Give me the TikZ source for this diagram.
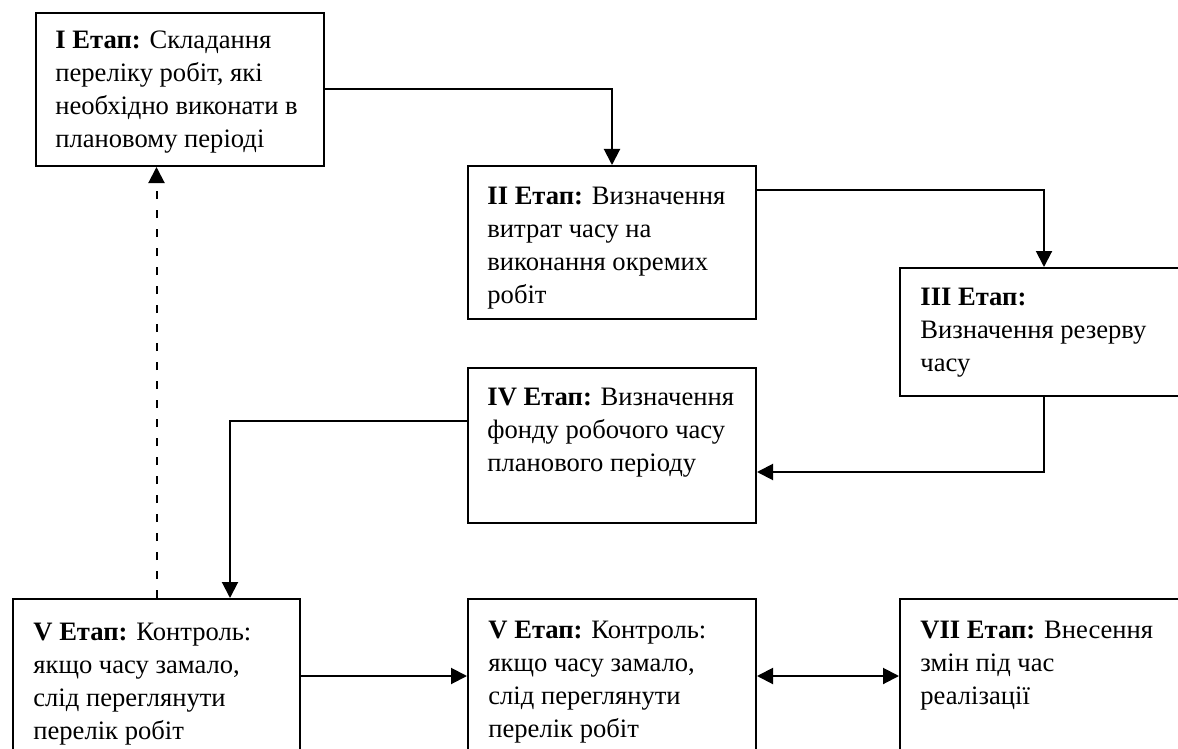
\documentclass[tikz,border=0pt]{standalone}
\usepackage{fontspec}
\setmainfont{Liberation Serif}
\usetikzlibrary{arrows.meta,calc}
\begin{document}
\begin{tikzpicture}[x=0.5pt,y=-0.5pt,
  stage/.style={draw, line width=1pt, rectangle, anchor=north west, inner sep=0pt, minimum width=144pt},
  label/.style={anchor=north west, inner sep=0pt, align=left,
    font=\fontsize{13.3}{16.5}\selectfont},
  link/.style={line width=1pt, -{Triangle[length=8pt,width=8pt]}},
]
\useasboundingbox (0,0) rectangle (1178,749);
\clip (0,0) rectangle (1178,749);

% stage frames
\node[stage, minimum height=76.5pt] (s1) at (35,12) {};
\node[stage, minimum height=76.5pt] (s2) at (467,165) {};
\node[stage, minimum height=64pt] (s3) at (899,267) {};
\node[stage, minimum height=77.5pt] (s4) at (467,367) {};
\node[stage, minimum height=85pt, minimum width=143.5pt] (s5) at (12,598) {};
\node[stage, minimum height=85pt] (s6) at (467,598) {};
\node[stage, minimum height=85pt] (s7) at (899,598) {};

% stage texts
\node[label] (t1) at ($(s1.north west)+(20,13)$) {\strut\textbf{I Етап:} Складання\\переліку робіт, які\\необхідно виконати в\\плановому періоді};
\node[label] (t2) at ($(s2.north west)+(20,16)$) {\strut\textbf{II Етап:} Визначення\\витрат часу на\\виконання окремих\\робіт};
\node[label] (t3) at ($(s3.north west)+(21,15)$) {\strut\textbf{III Етап:}\\Визначення резерву\\часу};
\node[label] (t4) at ($(s4.north west)+(20,15)$) {\strut\textbf{IV Етап:} Визначення\\фонду робочого часу\\планового періоду};
\node[label] (t5) at ($(s5.north west)+(21,19)$) {\strut\textbf{V Етап:} Контроль:\\якщо часу замало,\\слід переглянути\\перелік робіт};
\node[label] (t6) at ($(s6.north west)+(21,17)$) {\strut\textbf{V Етап:} Контроль:\\якщо часу замало,\\слід переглянути\\перелік робіт};
\node[label] (t7) at ($(s7.north west)+(21,17)$) {\strut\textbf{VII Етап:} Внесення\\змін під час\\реалізації};

% connectors
\coordinate (c2out) at ($(s2.north east)+(0,25)$);
\coordinate (c4in) at ($(s4.north east)+(0,105)$);
\coordinate (c4out) at ($(s4.north west)+(0,54)$);
\coordinate (c5in) at ($(s5.north west)+(218,0)$);
\coordinate (c5out) at ($(s5.north east)+(0,78)$);
\coordinate (c6in) at ($(s6.north west)+(0,78)$);
\coordinate (c6out) at ($(s6.north east)+(0,78)$);
\coordinate (c7in) at ($(s7.north west)+(0,78)$);

\draw[link] (s1.east) -| (s2.north);
\draw[link] (c2out) -| (s3.north);
\draw[link] (s3.south) |- (c4in);
\draw[link] (c4out) -| (c5in);
\draw[link, dash pattern=on 4pt off 5.5pt] (s5.north) -- (s5.north |- s1.south);
\draw[link] (c5out) -- (c6in);
\draw[line width=1pt, {Triangle[length=8pt,width=8pt]}-{Triangle[length=8pt,width=8pt]}] (c6out) -- (c7in);
\end{tikzpicture}
\end{document}
